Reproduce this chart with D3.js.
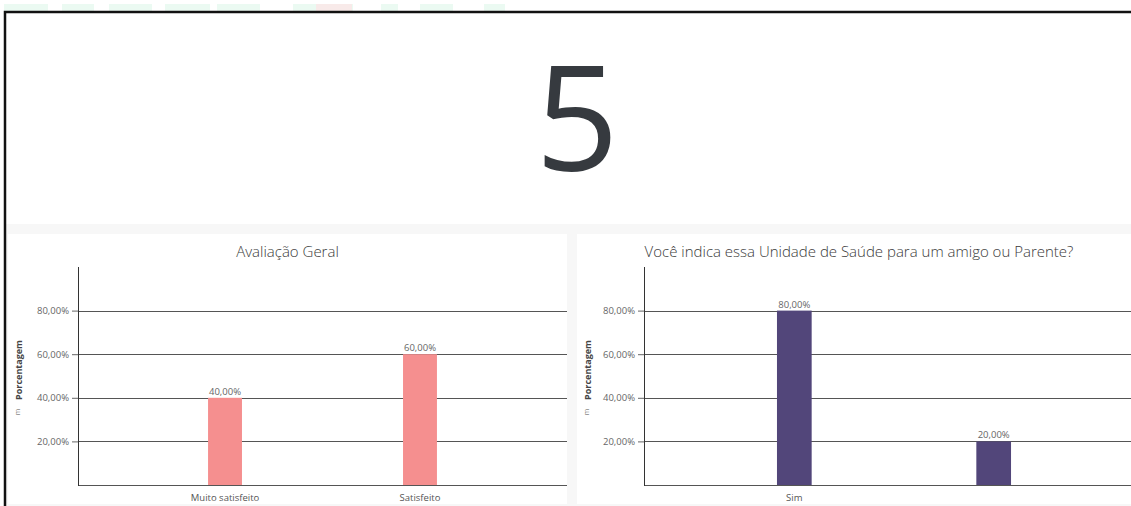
<!DOCTYPE html>
<html>
<head>
<meta charset="utf-8">
<script src="https://cdn.jsdelivr.net/npm/d3@7"></script>
<style>
  html, body { margin: 0; padding: 0; background: #ffffff; overflow: hidden; }
  svg { display: block; font-family: "Open Sans", sans-serif; }
</style>
</head>
<body>
<svg id="painel" width="1131" height="506"></svg>
<script>
// Indicador principal
const totalRespostas = 5;

// Avaliação Geral
const avaliacaoCategorias = ["Muito satisfeito", "Satisfeito"];
const avaliacaoValores = [40, 60];
const avaliacaoRotulos = ["Muito satisfeito", "Satisfeito"];

// Indicação da unidade
const indicaCategorias = ["Sim", "Não"];
const indicaValores = [80, 20];
const indicaRotulos = ["Sim", ""];

// Eixo vertical
const ticksY = [20, 40, 60, 80];
const rotuloEixoY = "Porcentagem";

const fmtPct = v => d3.format(".2f")(v).replace(".", ",") + "%";

const svg = d3.select("#painel");

// faixa decorativa do cabeçalho
const faixa = [
  [4, 48, "#e3f8ed"], [62, 94, "#e3f8ed"], [109, 152, "#e3f8ed"], [165, 210, "#e3f8ed"],
  [217, 260, "#e3f8ed"], [293, 353, "#e3f8ed"], [316, 352, "#fde3e5"], [381, 398, "#e3f8ed"],
  [420, 453, "#e3f8ed"], [484, 505, "#e3f8ed"]
];
svg.selectAll("rect.faixa").data(faixa).enter().append("rect")
  .attr("class", "faixa")
  .attr("x", d => d[0]).attr("y", 4)
  .attr("width", d => d[1] - d[0]).attr("height", 7)
  .attr("fill", d => d[2]).attr("opacity", 0.7);

// cartão do indicador
svg.append("rect").attr("x", 5).attr("y", 12).attr("width", 1130).attr("height", 212).attr("fill", "#ffffff");
svg.append("text")
  .attr("x", 577).attr("y", 171)
  .attr("text-anchor", "middle")
  .attr("font-size", 146)
  .attr("fill", "#363a3f")
  .text(totalRespostas);

// área dos gráficos
svg.append("rect").attr("x", 5).attr("y", 224).attr("width", 1130).attr("height", 282).attr("fill", "#f7f7f7");

// borda do cartão
svg.append("path")
  .attr("d", "M5,506 V12 H1131")
  .attr("fill", "none").attr("stroke", "#111").attr("stroke-width", 2.5);

function desenhaPainel(cfg) {
  const g = svg.append("g");
  g.append("rect")
    .attr("x", cfg.x0).attr("y", 234)
    .attr("width", cfg.x1 - cfg.x0).attr("height", 270)
    .attr("fill", "#ffffff");

  g.append("text")
    .attr("x", (cfg.x0 + cfg.x1) / 2).attr("y", 257)
    .attr("text-anchor", "middle")
    .attr("font-size", 15)
    .attr("font-weight", 300)
    .attr("fill", "#3a3a3a")
    .text(cfg.titulo);

  const x = d3.scaleBand()
    .domain(cfg.categorias)
    .range([cfg.eixo, cfg.fim])
    .paddingInner(0.826)
    .paddingOuter(0.667);

  const y = d3.scaleLinear().domain([0, 100]).range([485, 267]);

  // grade e rótulos do eixo Y
  const eixoY = g.append("g")
    .attr("transform", `translate(${cfg.eixo},0)`)
    .call(d3.axisLeft(y).tickValues(ticksY).tickFormat(fmtPct)
      .tickSize(6).tickSizeOuter(0));
  eixoY.select(".domain").remove();
  eixoY.selectAll(".tick line").attr("stroke", "#666");
  eixoY.selectAll(".tick text")
    .attr("font-family", "Open Sans").attr("font-size", 9.5).attr("fill", "#666");

  g.selectAll("line.grade").data(ticksY).enter().append("line")
    .attr("class", "grade")
    .attr("x1", cfg.eixo).attr("x2", cfg.fim)
    .attr("y1", d => Math.round(y(d)) + 0.5).attr("y2", d => Math.round(y(d)) + 0.5)
    .attr("stroke", "#555").attr("stroke-width", 1);

  // linha base
  g.append("line")
    .attr("x1", cfg.eixo).attr("x2", cfg.fim)
    .attr("y1", y(0) + 0.5).attr("y2", y(0) + 0.5)
    .attr("stroke", "#555");

  // linha do eixo vertical
  g.append("line")
    .attr("x1", cfg.eixo + 0.5).attr("x2", cfg.eixo + 0.5)
    .attr("y1", y(100)).attr("y2", y(0) + 1)
    .attr("stroke", "#333");

  // barras
  g.selectAll("rect.barra").data(cfg.valores).enter().append("rect")
    .attr("class", "barra")
    .attr("x", (d, i) => x(cfg.categorias[i]))
    .attr("y", d => y(d))
    .attr("width", x.bandwidth())
    .attr("height", d => y(0) - y(d))
    .attr("fill", cfg.cor);

  // valores
  g.selectAll("text.valor").data(cfg.valores).enter().append("text")
    .attr("class", "valor")
    .attr("x", (d, i) => x(cfg.categorias[i]) + x.bandwidth() / 2)
    .attr("y", d => y(d) - 3)
    .attr("text-anchor", "middle")
    .attr("font-size", 9.5)
    .attr("fill", "#666")
    .text(fmtPct);

  // rótulos das categorias
  const eixoX = g.append("g")
    .attr("transform", `translate(0,${y(0)})`)
    .call(d3.axisBottom(x).tickSize(0).tickPadding(9)
      .tickFormat((d, i) => cfg.rotulos[i]));
  eixoX.select(".domain").remove();
  eixoX.selectAll(".tick text")
    .attr("font-family", "Open Sans").attr("font-size", 9.5).attr("fill", "#555");

  // título do eixo Y
  g.append("text")
    .attr("transform", `translate(${cfg.x0 + 14},370) rotate(-90)`)
    .attr("text-anchor", "middle")
    .attr("font-size", 9)
    .attr("font-weight", "bold")
    .attr("fill", "#444")
    .text(rotuloEixoY);
  g.append("text")
    .attr("transform", `translate(${cfg.x0 + 12},412) rotate(-90)`)
    .attr("text-anchor", "middle")
    .attr("font-size", 7)
    .attr("fill", "#888")
    .text("m");
}

desenhaPainel({
  x0: 8, x1: 567, eixo: 78, fim: 567,
  titulo: "Avaliação Geral",
  categorias: avaliacaoCategorias, valores: avaliacaoValores, rotulos: avaliacaoRotulos,
  cor: "#f58f8f"
});

desenhaPainel({
  x0: 577, x1: 1141, eixo: 644, fim: 1144,
  titulo: "Você indica essa Unidade de Saúde para um amigo ou Parente?",
  categorias: indicaCategorias, valores: indicaValores, rotulos: indicaRotulos,
  cor: "#52467a"
});
</script>
</body>
</html>
